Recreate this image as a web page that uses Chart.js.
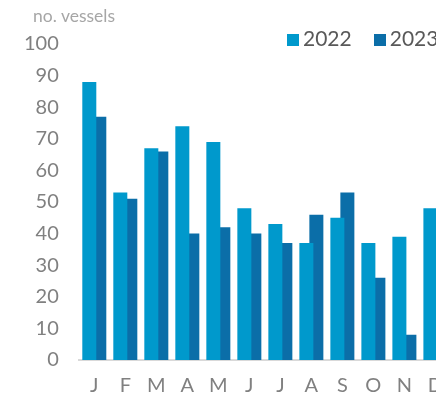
<!DOCTYPE html>
<html>
<head>
<meta charset="utf-8">
<script src="https://cdn.jsdelivr.net/npm/chart.js@4/dist/chart.umd.min.js"></script>
<style>
  html, body { margin: 0; padding: 0; background: #fff; overflow: hidden; }
  body { width: 436px; height: 400px; position: relative; font-family: Lato, sans-serif; }
  #wrap { position: absolute; left: 0; top: 0; width: 457px; height: 414px; }
  #unit { position: absolute; left: 33px; top: 5px; font-size: 17.5px; color: #a6a6a6; }
  #legend { position: absolute; left: 287px; top: 25px; font-size: 21px; color: #595959; white-space: nowrap; }
  #legend span.item { display: inline-block; margin-right: 22px; }
  #legend i { display: inline-block; width: 12px; height: 12px; margin-right: 4px; vertical-align: 0px; }
</style>
</head>
<body>
<div id="wrap"><canvas id="chart"></canvas></div>
<div id="unit">no. vessels</div>
<div id="legend"></div>
<script>
const months = ['J', 'F', 'M', 'A', 'M', 'J', 'J', 'A', 'S', 'O', 'N', 'D'];
const vessels2022 = [88, 53, 67, 74, 69, 48, 43, 37, 45, 37, 39, 48];
const vessels2023 = [77, 51, 66, 40, 42, 40, 37, 46, 53, 26, 8, null];
const seriesNames = ['2022', '2023'];
const seriesColors = ['#0099cc', '#0b6ea8'];

document.getElementById('legend').innerHTML = seriesNames.map((n, i) =>
  `<span class="item"><i style="background:${seriesColors[i]}"></i>${n}</span>`).join('');

new Chart(document.getElementById('chart'), {
  type: 'bar',
  data: {
    labels: months,
    datasets: [
      { label: seriesNames[0], data: vessels2022, backgroundColor: seriesColors[0] },
      { label: seriesNames[1], data: vessels2023, backgroundColor: seriesColors[1] }
    ]
  },
  options: {
    responsive: true,
    maintainAspectRatio: false,
    animation: false,
    categoryPercentage: 0.645,
    barPercentage: 1.4,
    layout: { padding: { left: 4, top: 44, right: 0, bottom: 2 } },
    plugins: { legend: { display: false }, tooltip: { enabled: false } },
    scales: {
      x: {
        grid: { display: false, drawTicks: false },
        border: { display: true, color: '#d9d9d9', width: 2 },
        ticks: { color: '#808080', font: { family: 'Lato', size: 20 }, padding: 14, maxRotation: 0, autoSkip: false }
      },
      y: {
        min: 0,
        max: 100,
        grid: { display: false, drawTicks: false },
        border: { display: false },
        ticks: { stepSize: 10, color: '#808080', font: { family: 'Lato', size: 20 }, padding: 20 }
      }
    }
  }
});
</script>
</body>
</html>
